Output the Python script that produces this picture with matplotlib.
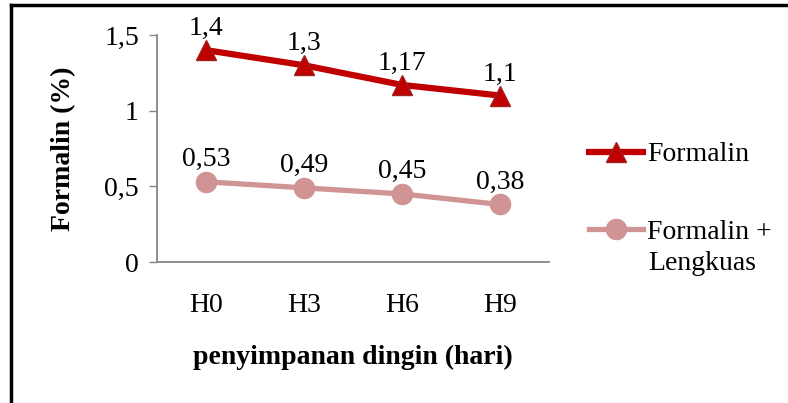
import matplotlib.pyplot as plt
from matplotlib.lines import Line2D

plt.rcParams['font.family'] = ['Liberation Serif', 'DejaVu Serif']

days = ['H0', 'H3', 'H6', 'H9']
formalin = [1.4, 1.3, 1.17, 1.1]
formalin_lengkuas = [0.53, 0.49, 0.45, 0.38]
yticks = [0, 0.5, 1, 1.5]
ytick_labels = ['0', '0,5', '1', '1,5']

red = '#C00000'
pink = '#D09494'
fs = 20

fig = plt.figure(figsize=(7.88, 4.03), dpi=100)
ax = fig.add_axes([157 / 788, 1 - 262 / 403, (549 - 157) / 788, (262 - 35) / 403])

x = range(len(days))
ax.plot(x, formalin, color=red, lw=4.5, marker='^', ms=14,
        mfc=red, mec='#A02020', mew=1, solid_capstyle='round')
ax.plot(x, formalin_lengkuas, color=pink, lw=3.8, marker='o', ms=14.5,
        mfc=pink, mec=pink, solid_capstyle='round')

for xi, v in zip(x, formalin):
    ax.annotate(f'{v:g}'.replace('.', ','), (xi, v), xytext=(0, 6.5),
                textcoords='offset points', ha='center', va='bottom', fontsize=fs)
for xi, v in zip(x, formalin_lengkuas):
    ax.annotate(f'{v:g}'.replace('.', ','), (xi, v), xytext=(0, 7),
                textcoords='offset points', ha='center', va='bottom', fontsize=fs)

ax.set_xlim(-0.5, len(days) - 0.5)
ax.set_ylim(0, 1.5)
ax.set_xticks(list(x))
ax.set_xticklabels(days, fontsize=fs)
ax.set_yticks(yticks)
ax.set_yticklabels(ytick_labels, fontsize=fs)
ax.tick_params(axis='y', length=6, width=1, color='#868686', pad=7)
ax.tick_params(axis='x', length=0, pad=22)
for side in ['top', 'right']:
    ax.spines[side].set_visible(False)
for side in ['left', 'bottom']:
    ax.spines[side].set_color('#868686')
    ax.spines[side].set_linewidth(1.3)

ax.set_ylabel('Formalin (%)', fontsize=fs, fontweight='bold')
ax.yaxis.set_label_coords((76 - 157) / 392, 0.5)
ax.set_xlabel('penyimpanan dingin (hari)', fontsize=fs, fontweight='bold', labelpad=20)

handles = [
    Line2D([], [], color=red, lw=4.5, marker='^', ms=14, mfc=red, mec='#A02020'),
    Line2D([], [], color=pink, lw=3.8, marker='o', ms=14.5, mfc=pink, mec=pink),
]
fig.legend(handles, ['Formalin', 'Formalin +'], loc='upper left',
           bbox_to_anchor=(589 / 788, 1 - 142 / 403), frameon=False, fontsize=fs,
           borderpad=0, borderaxespad=0,
           handlelength=1.95, handletextpad=0.15, labelspacing=1.86)
fig.text(648 / 788, 1 - 263 / 403, 'Lengkuas', fontsize=fs, va='center', ha='left')

# outer frame lines
fig.add_artist(Line2D([11 / 788, 11 / 788], [0, 1 - 5 / 403], color='black', lw=2.5))
fig.add_artist(Line2D([11 / 788, 1], [1 - 5 / 403, 1 - 5 / 403], color='black', lw=2.5))

fig.savefig('out.png', dpi=100)
